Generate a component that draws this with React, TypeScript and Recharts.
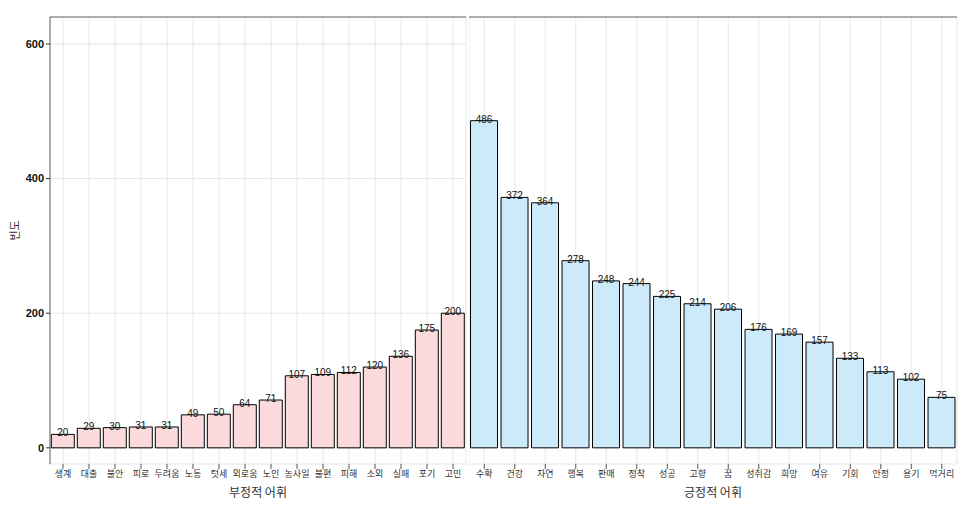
import { BarChart, Bar, XAxis, YAxis, CartesianGrid, LabelList, ReferenceLine } from 'recharts';

const negWords = ['생계', '대출', '불안', '피로', '두려움', '노동', '텃세', '외로움', '노인', '농사일', '불편', '피해', '소외', '실패', '포기', '고민'];
const negCounts = [20, 29, 30, 31, 31, 49, 50, 64, 71, 107, 109, 112, 120, 136, 175, 200];

const posWords = ['수확', '건강', '자연', '행복', '판매', '정착', '성공', '고향', '꿈', '성취감', '희망', '여유', '기회', '안정', '용기', '먹거리'];
const posCounts = [486, 372, 364, 278, 248, 244, 225, 214, 206, 176, 169, 157, 133, 113, 102, 75];

const yTicks = [0, 200, 400, 600];
const Y_DOMAIN = [-24, 640];

const FONT = '"Noto Sans CJK KR", "Noto Sans", sans-serif';

const negData = negWords.map((w, i) => ({ word: w, count: negCounts[i] }));
const posData = posWords.map((w, i) => ({ word: w, count: posCounts[i] }));

const tickStyle = { fontSize: 9, fill: '#333', fontFamily: FONT };

function Panel({ data, fill, title, showY }: { data: any[]; fill: string; title: string; showY: boolean }) {
  const width = showY ? 469 : 491;
  return (
    <BarChart
      width={width}
      height={505}
      data={data}
      margin={{ top: 17, right: 3, left: 0, bottom: 0 }}
      barCategoryGap="5%"
    >
      <CartesianGrid stroke="#e6e6e6" strokeWidth={1} />
      <XAxis
        dataKey="word"
        interval={0}
        axisLine={false}
        tickLine={{ stroke: '#555' }}
        tickSize={5}
        tick={tickStyle}
        height={41}
        label={{ value: title, position: 'insideBottom', offset: 8, fontSize: 12, fill: '#333', fontFamily: FONT }}
      />
      <YAxis
        domain={Y_DOMAIN}
        ticks={yTicks}
        allowDataOverflow
        width={showY ? 50 : 0}
        axisLine={{ stroke: '#666' }}
        tickLine={showY ? { stroke: '#333' } : false}
        tickSize={4}
        tick={showY ? { fontSize: 11, fontWeight: 'bold', fill: '#111', fontFamily: 'Liberation Sans, Arial, sans-serif' } : false}
        label={showY ? { value: '빈도', angle: -90, position: 'insideLeft', dx: 10, fontSize: 11, fill: '#333', fontFamily: FONT } : undefined}
      />
      <ReferenceLine y={640} stroke="#666" strokeWidth={1} />
      <Bar dataKey="count" fill={fill} stroke="#000" strokeWidth={1} isAnimationActive={false}>
        <LabelList dataKey="count" position="top" offset={-2} style={{ fontSize: 10, fill: '#111', fontFamily: 'Liberation Sans, Arial, sans-serif' }} />
      </Bar>
    </BarChart>
  );
}

export default function App() {
  return (
    <div style={{ position: 'fixed', left: 0, top: 0, width: 960, height: 505, background: '#fff', overflow: 'hidden' }}>
      <div style={{ position: 'absolute', left: 0, top: 0 }}>
        <Panel data={negData} fill="#fadadb" title="부정적 어휘" showY={true} />
      </div>
      <div style={{ position: 'absolute', left: 469, top: 0 }}>
        <Panel data={posData} fill="#cdeafa" title="긍정적 어휘" showY={false} />
      </div>
    </div>
  );
}
